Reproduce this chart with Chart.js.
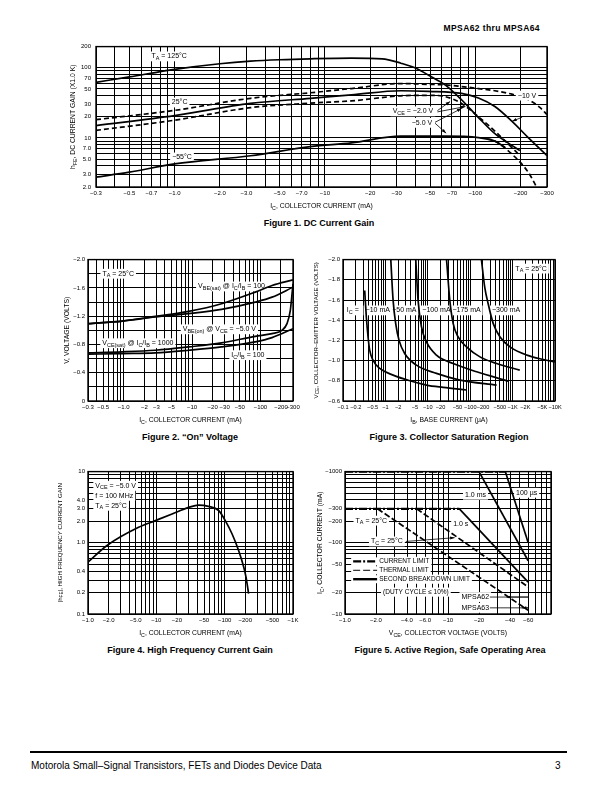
<!DOCTYPE html>
<html>
<head>
<meta charset="utf-8">
<title>MPSA62 thru MPSA64</title>
<script src="https://cdn.jsdelivr.net/npm/chart.js@4.4.1/dist/chart.umd.min.js"></script>
<style>
  body { margin: 0; background: #fff; }
  #page { position: relative; width: 612px; height: 792px; overflow: hidden; color: #000;
          font-family: "Liberation Sans", Arial, Helvetica, sans-serif; }
  canvas { position: absolute; }
  .cap { position: absolute; font-weight: bold; font-size: 9px; white-space: nowrap; transform: translateX(-50%); }
  #head { position: absolute; right: 72px; top: 23px; font-weight: bold; font-size: 8.5px; letter-spacing: 0.4px; }
  #rule { position: absolute; left: 30px; top: 751px; width: 537px; height: 2px; background: #000; }
  #foot { position: absolute; left: 31px; top: 760px; font-size: 10px; }
  #pg { position: absolute; left: 555px; top: 760px; font-size: 10px; }
</style>
</head>
<body>
<div id="page">
  <div id="head">MPSA62 thru MPSA64</div>

  <canvas id="fig1"></canvas>
  <div class="cap" style="left:319px; top:218px">Figure 1. DC Current Gain</div>

  <canvas id="fig2"></canvas>
  <div class="cap" style="left:190px; top:432px">Figure 2. “On” Voltage</div>

  <canvas id="fig3"></canvas>
  <div class="cap" style="left:449px; top:432px">Figure 3. Collector Saturation Region</div>

  <canvas id="fig4"></canvas>
  <div class="cap" style="left:190px; top:645px">Figure 4. High Frequency Current Gain</div>

  <canvas id="fig5"></canvas>
  <div class="cap" style="left:450px; top:645px">Figure 5. Active Region, Safe Operating Area</div>

  <div id="rule"></div>
  <div id="foot">Motorola Small–Signal Transistors, FETs and Diodes Device Data</div>
  <div id="pg">3</div>
</div>

<script>
const FONT = '"Liberation Sans", Arial, Helvetica, sans-serif';

// ---------- Figure 1: DC current gain (|Ic| mA, hFE x1000) ----------
const f1Ic125  = [0.3, 0.5, 1, 2, 3.2, 5, 8, 15, 24, 32, 41, 49, 63, 81, 105, 135, 165, 198];
const f1Hfe125 = [62, 74, 95, 114, 124, 130, 134, 137, 134, 116, 97, 78, 57, 35, 19.5, 11.5, 8.5, 6.6];
const f1Ic25a  = [0.3, 1, 3.2, 8, 15, 32, 49, 63, 81, 105, 135, 175, 225, 270, 300];
const f1Hfe25a = [18.2, 24.7, 36.7, 44, 50.5, 59.5, 58, 57, 54, 50.5, 47, 42, 35, 27, 21.5];   // -10 V
const f1Ic25b  = [0.3, 1, 3.2, 8, 15, 32, 49, 81, 105, 135, 175, 225, 300];
const f1Hfe25b = [15, 20.8, 31, 36.7, 41, 47, 46, 43, 37, 28, 17.3, 10.1, 5.6];                // -5 V
const f1Ic25c  = [0.3, 1, 3.2, 8, 15, 32, 49, 63, 81, 105, 135, 175, 198];
const f1Hfe25c = [12.8, 17.9, 27, 31.3, 33.7, 39.8, 40.5, 38.8, 31, 20, 12.5, 7.3, 5.6];       // -2 V
const f1Ic55   = [0.3, 0.5, 1, 3.2, 8, 15, 32, 63, 105, 135, 158];
const f1Hfe55  = [2.76, 3.25, 4.27, 5.57, 7.5, 8.5, 10.6, 10.6, 10.1, 9, 7.3];
const f1Ic55d  = [120, 135, 175, 225, 256];
const f1Hfe55d = [9.7, 9.06, 5.9, 3.25, 2.0];
const f1XVals = [0.3, 0.5, 0.7, 1, 2, 3, 5, 7, 10, 20, 30, 50, 70, 100, 200, 300];
const f1XText = ['−0.3', '−0.5', '−0.7', '−1.0', '−2.0', '−3.0', '−5.0', '−7.0', '−10', '−20', '−30', '−50', '−70', '−100', '−200', '−300'];
const f1YVals = [2, 3, 5, 7, 10, 20, 30, 50, 70, 100, 200];
const f1YText = ['2.0', '3.0', '5.0', '7.0', '10', '20', '30', '50', '70', '100', '200'];

// ---------- Figure 2: "On" voltage (|Ic| mA, |V|) ----------
const f2Ic       = [0.3, 0.95, 2.9, 8.9, 27, 84, 148, 300];
const f2VbeSat   = [1.094, 1.131, 1.197, 1.268, 1.376, 1.54, 1.634, 1.714];
const f2VbeOn    = [1.094, 1.131, 1.188, 1.235, 1.296, 1.399, 1.469, 1.61];
const f2IcLow    = [0.3, 0.95, 2.9, 8.9, 27, 84, 148, 207, 245, 274, 300];
const f2VceSat1k = [0.681, 0.695, 0.718, 0.765, 0.822, 0.915, 0.953, 1.0, 1.094, 1.282, 1.657];
const f2VceSat100 = [0.662, 0.671, 0.681, 0.718, 0.765, 0.836, 0.897, 1.023];
const f2XVals = [0.3, 0.5, 1, 2, 3, 5, 10, 20, 30, 50, 100, 200, 300];
const f2XText = ['−0.3', '−0.5', '−1.0', '−2', '−3', '−5', '−10', '−20', '−30', '−50', '−100', '−200', '−300'];
const f2YVals = [0, 0.4, 0.8, 1.2, 1.6, 2.0];
const f2YText = ['0', '−0.4', '−0.8', '−1.2', '−1.6', '−2.0'];

// ---------- Figure 3: collector saturation region (|Ib| uA, |Vce|) ----------
const f3Ib10   = [0.325, 0.355, 0.39, 0.426, 0.51, 0.735, 1.52, 3.77, 9.3, 23, 82];
const f3Vce10  = [1.694, 1.431, 1.234, 1.103, 1.004, 0.922, 0.856, 0.80, 0.758, 0.735, 0.709];
const f3Ib50   = [1.34, 1.52, 1.75, 2.1, 2.85, 5.4, 16, 57, 420];
const f3Vce50  = [2.0, 1.596, 1.366, 1.2, 1.07, 0.955, 0.873, 0.807, 0.758];
const f3Ib100  = [5.2, 5.9, 7.1, 9.3, 16, 39.7, 142, 790];
const f3Vce100 = [2.0, 1.596, 1.333, 1.185, 1.054, 0.971, 0.889, 0.797];
const f3Ib175  = [27.7, 33, 39.7, 52, 82, 170, 420, 1475];
const f3Vce175 = [2.0, 1.6, 1.366, 1.234, 1.136, 1.037, 0.971, 0.906];
const f3Ib300  = [184, 220, 265, 350, 505, 870, 2170, 5300, 10000];
const f3Vce300 = [2.0, 1.727, 1.563, 1.366, 1.234, 1.136, 1.054, 1.011, 0.988];
const f3XVals = [0.1, 0.2, 0.5, 1, 2, 5, 10, 20, 50, 100, 200, 500, 1000, 2000, 5000, 10000];
const f3XText = ['−0.1', '−0.2', '−0.5', '−1', '−2', '−5', '−10', '−20', '−50', '−100', '−200', '−500', '−1K', '−2K', '−5K', '−10K'];
const f3YVals = [0.6, 0.8, 1.0, 1.2, 1.4, 1.6, 1.8, 2.0];
const f3YText = ['−0.6', '−0.8', '−1.0', '−1.2', '−1.4', '−1.6', '−1.8', '−2.0'];

// ---------- Figure 4: high frequency current gain (|Ic| mA, |hfe|) ----------
const f4Ic  = [1, 1.9, 5.5, 9.7, 17, 29.7, 41.6, 58, 82, 102, 128, 160, 190, 205, 224];
const f4Hfe = [0.537, 0.918, 1.65, 2.05, 2.54, 3.14, 3.39, 3.25, 2.83, 2.05, 1.34, 0.78, 0.457, 0.332, 0.194];
const f4XVals = [1, 2, 5, 10, 20, 50, 100, 200, 500, 1000];
const f4XText = ['−1.0', '−2.0', '−5.0', '−10', '−20', '−50', '−100', '−200', '−500', '−1K'];
const f4YVals = [0.1, 0.2, 0.4, 1, 2, 3, 4, 10];
const f4YText = ['0.1', '0.2', '0.4', '1.0', '2.0', '3.0', '4.0', '10'];

// ---------- Figure 5: safe operating area (|Vce| V, |Ic| mA) ----------
const f5CurVce  = [1, 36];      const f5CurIc  = [1000, 1000];
const f5Cur2Vce = [1, 12.9];    const f5Cur2Ic = [300, 300];
const f5UsVce   = [36, 60];     const f5UsIc   = [1000, 101];
const f5MsVce   = [20, 60];     const f5MsIc   = [1000, 56];
const f5SVce    = [12.9, 60];   const f5SIc    = [300, 28];
const f5TcVce   = [4.97, 60];   const f5TcIc   = [300, 24];
const f5TaVce   = [2.07, 60];   const f5TaIc   = [300, 11.3];
const f5XVals = [1, 2, 4, 6, 10, 20, 40, 60];
const f5XText = ['−1.0', '−2.0', '−4.0', '−6.0', '−10', '−20', '−40', '−60'];
const f5YVals = [10, 20, 50, 100, 200, 300, 1000];
const f5YText = ['−10', '−20', '−50', '−100', '−200', '−300', '−1000'];

// ---------- helpers ----------
function logGrid(min, max) {
  const out = [];
  for (let e = Math.floor(Math.log10(min)); e <= Math.ceil(Math.log10(max)); e++)
    for (let m = 1; m <= 9; m++) {
      const v = parseFloat((m * Math.pow(10, e)).toPrecision(8));
      if (v >= min * 0.9999 && v <= max * 1.0001) out.push(v);
    }
  return out;
}
function linGrid(min, max, step) {
  const out = [];
  for (let v = min; v <= max + step / 1000; v += step) out.push(Math.round(v * 1000) / 1000);
  return out;
}
function pick(vals, texts) {
  return v => {
    const i = vals.findIndex(t => Math.abs(t - v) <= Math.abs(t) * 1e-6 + 1e-9);
    return i < 0 ? '' : texts[i];
  };
}
function axis(type, pos, min, max, grid, vals, texts, pad, size) {
  return {
    type, position: pos, min, max,
    afterBuildTicks: s => { s.ticks = grid.map(v => ({ value: v })); },
    ticks: { autoSkip: false, maxRotation: 0, minRotation: 0, padding: pad, color: '#000',
             font: { family: FONT, size: size || 6 }, callback: pick(vals, texts) },
    grid: { color: '#000', lineWidth: 1, drawTicks: false },
    border: { display: false }
  };
}
function curve(xs, ys, o) {
  o = o || {};
  return {
    data: xs.map((x, i) => ({ x, y: ys[i] })),
    showLine: true, borderColor: '#000', backgroundColor: '#000',
    borderWidth: o.w || 1.7, borderDash: o.dash || [], pointRadius: 0,
    tension: o.straight ? 0 : 0.4, cubicInterpolationMode: o.straight ? 'default' : 'monotone'
  };
}

// text with _{subscript} parts
function rich(ctx, str, x, y, o) {
  o = o || {};
  const fs = o.size || 7, ss = fs * 0.78;
  const parts = [], re = /_\{([^}]*)\}/g;
  let last = 0, m;
  while ((m = re.exec(str))) {
    if (m.index > last) parts.push({ s: str.slice(last, m.index), sub: false });
    parts.push({ s: m[1], sub: true });
    last = re.lastIndex;
  }
  if (last < str.length) parts.push({ s: str.slice(last), sub: false });
  const font = sz => sz + 'px ' + FONT;
  let w = 0;
  parts.forEach(p => { ctx.font = font(p.sub ? ss : fs); p.w = ctx.measureText(p.s).width; w += p.w; });
  ctx.save();
  ctx.translate(x, y);
  if (o.rot) ctx.rotate(o.rot);
  let x0 = o.align === 'left' ? 0 : o.align === 'right' ? -w : -w / 2;
  if (o.mode !== 'text' && o.bg) {
    const h = o.bgH || fs * 1.4;
    ctx.fillStyle = '#fff';
    ctx.fillRect(x0 - 2, -h / 2, w + 4, h);
  }
  if (o.mode !== 'bg') {
    ctx.fillStyle = '#000';
    ctx.textBaseline = 'middle';
    ctx.textAlign = 'left';
    parts.forEach(p => {
      ctx.font = font(p.sub ? ss : fs);
      ctx.fillText(p.s, x0, p.sub ? fs * 0.3 : 0);
      x0 += p.w;
    });
  }
  ctx.restore();
}

const NOTES = {};
function px(chart, x, y) { return [chart.scales.x.getPixelForValue(x), chart.scales.y.getPixelForValue(y)]; }
const notesPlugin = {
  id: 'notes',
  beforeDatasetsDraw(chart) {
    const n = NOTES[chart.canvas.id], ctx = chart.ctx;
    (n.labels || []).forEach(l => {
      if (l.cover) return;
      const [x, y] = px(chart, l.x, l.y);
      rich(ctx, l.t, x, y, { size: l.size || n.size, align: l.align, bg: true, bgH: l.bgH, mode: 'bg' });
    });
  },
  afterDatasetsDraw(chart) {
    const n = NOTES[chart.canvas.id], ctx = chart.ctx, a = chart.chartArea;
    ctx.save();
    ctx.strokeStyle = '#000';
    ctx.fillStyle = '#000';
    ctx.lineWidth = 1.4;
    ctx.strokeRect(a.left, a.top, a.right - a.left, a.bottom - a.top);
    (n.samples || []).forEach(s => {
      const [x1, y1] = px(chart, s.x1, s.y), [x2] = px(chart, s.x2, s.y);
      ctx.fillStyle = '#fff';
      ctx.fillRect(x1 - 2, y1 - 4, x2 - x1 + 4, 8);
      ctx.beginPath();
      ctx.setLineDash(s.dash || []);
      ctx.lineWidth = s.w;
      ctx.moveTo(x1, y1); ctx.lineTo(x2, y1); ctx.stroke();
      ctx.setLineDash([]);
    });
    ctx.fillStyle = '#000';
    (n.arrows || []).forEach(r => {
      const [x1, y1] = px(chart, r[0], r[1]), [x2, y2] = px(chart, r[2], r[3]);
      ctx.beginPath(); ctx.lineWidth = 0.8; ctx.moveTo(x1, y1); ctx.lineTo(x2, y2); ctx.stroke();
      if (r[4]) {
        const ang = Math.atan2(y2 - y1, x2 - x1), L = 4.5, W = 1.6;
        ctx.beginPath();
        ctx.moveTo(x2, y2);
        ctx.lineTo(x2 - L * Math.cos(ang) + W * Math.sin(ang), y2 - L * Math.sin(ang) - W * Math.cos(ang));
        ctx.lineTo(x2 - L * Math.cos(ang) - W * Math.sin(ang), y2 - L * Math.sin(ang) + W * Math.cos(ang));
        ctx.closePath(); ctx.fill();
      }
    });
    (n.labels || []).forEach(l => {
      const [x, y] = px(chart, l.x, l.y);
      rich(ctx, l.t, x, y, { size: l.size || n.size, align: l.align, bg: true, bgH: l.bgH, mode: l.cover ? 'both' : 'text' });
    });
    rich(ctx, n.xTitle, (a.left + a.right) / 2, a.bottom + 19, { size: 6.8 });
    rich(ctx, n.yTitle, a.left - n.yGap, (a.top + a.bottom) / 2, { size: n.ySize || 6.8, rot: -Math.PI / 2 });
    ctx.restore();
  }
};

function figure(id, box, m, sets, xAx, yAx, note) {
  const cv = document.getElementById(id);
  cv.width = box.w + m.l + m.r;
  cv.height = box.h + m.t + m.b;
  cv.style.left = (box.x - m.l) + 'px';
  cv.style.top = (box.y - m.t) + 'px';
  xAx.afterFit = s => { s.height = m.b; };
  yAx.afterFit = s => { s.width = m.l; };
  NOTES[id] = note;
  return new Chart(cv, {
    type: 'scatter',
    data: { datasets: sets },
    options: {
      responsive: false, animation: false, devicePixelRatio: 1, events: [],
      layout: { padding: { left: 0, top: m.t, right: m.r, bottom: 0 } },
      plugins: { legend: { display: false }, tooltip: { enabled: false } },
      scales: { x: xAx, y: yAx }
    },
    plugins: [notesPlugin]
  });
}

const DASH = [5, 3];

// Figure 1
figure('fig1', { x: 96, y: 44, w: 451, h: 143 }, { l: 36, t: 6, r: 14, b: 26 }, [
  curve(f1Ic125, f1Hfe125),
  curve(f1Ic25a, f1Hfe25a, { dash: DASH }),
  curve(f1Ic25b, f1Hfe25b),
  curve(f1Ic25c, f1Hfe25c, { dash: DASH }),
  curve(f1Ic55, f1Hfe55),
  curve(f1Ic55d, f1Hfe55d, { dash: DASH })
],
  axis('logarithmic', 'bottom', 0.3, 300, logGrid(0.3, 300), f1XVals, f1XText, 3),
  axis('logarithmic', 'left', 2, 200, logGrid(2, 200), f1YVals, f1YText, 5),
  {
    xTitle: 'I_{C}, COLLECTOR CURRENT (mA)', yTitle: 'h_{FE}, DC CURRENT GAIN (X1.0 K)', yGap: 23,
    labels: [
      { t: 'T_{A} = 125°C', x: 0.92, y: 145 },
      { t: '25°C', x: 1.08, y: 32 },
      { t: '−55°C', x: 1.12, y: 5.27 },
      { t: 'V_{CE} = −2.0 V', x: 38.5, y: 23.9 },
      { t: '−5.0 V', x: 44.2, y: 16.4 },
      { t: '−10 V', x: 221, y: 40.1, cover: true }
    ],
    arrows: [
      [56, 24.5, 68, 33, 1], [56, 23.5, 86, 28, 1],
      [54, 16.7, 81, 26.3, 1], [54, 16.2, 64, 11.7, 1],
      [205, 19.7, 176, 17.3, 1]
    ]
  });

// Figure 2
figure('fig2', { x: 88, y: 259, w: 205, h: 142 }, { l: 30, t: 6, r: 14, b: 26 }, [
  curve(f2Ic, f2VbeSat),
  curve(f2Ic, f2VbeOn),
  curve(f2IcLow, f2VceSat1k),
  curve(f2Ic, f2VceSat100)
],
  axis('logarithmic', 'bottom', 0.3, 300, logGrid(0.3, 300), f2XVals, f2XText, 3),
  axis('linear', 'left', 0, 2, linGrid(0, 2, 0.2), f2YVals, f2YText, 3),
  {
    xTitle: 'I_{C}, COLLECTOR CURRENT (mA)', yTitle: 'V, VOLTAGE (VOLTS)', yGap: 21,
    labels: [
      { t: 'T_{A} = 25°C', x: 0.83, y: 1.80 },
      { t: 'V_{BE(sat)} @ I_{C}/I_{B} = 100', x: 37.8, y: 1.62 },
      { t: 'V_{BE(on)} @ V_{CE} = −5.0 V', x: 25.1, y: 1.014 },
      { t: 'V_{CE(sat)} @ I_{C}/I_{B} = 1000', x: 1.61, y: 0.817 },
      { t: 'I_{C}/I_{B} = 100', x: 65.6, y: 0.648 }
    ]
  });

// Figure 3
figure('fig3', { x: 343, y: 259, w: 212, h: 142 }, { l: 32, t: 6, r: 14, b: 26 }, [
  curve(f3Ib10, f3Vce10),
  curve(f3Ib50, f3Vce50),
  curve(f3Ib100, f3Vce100),
  curve(f3Ib175, f3Vce175),
  curve(f3Ib300, f3Vce300)
],
  axis('logarithmic', 'bottom', 0.1, 10000, logGrid(0.1, 10000), f3XVals, f3XText, 3, 5.6),
  axis('linear', 'left', 0.6, 2, linGrid(0.6, 2, 0.2), f3YVals, f3YText, 3),
  {
    xTitle: 'I_{B}, BASE CURRENT (µA)', yTitle: 'V_{CE}, COLLECTOR–EMITTER VOLTAGE (VOLTS)', yGap: 27, ySize: 6.1,
    labels: [
      { t: 'T_{A} = 25°C', x: 2735, y: 1.911 },
      { t: 'I_{C} =', x: 0.17, y: 1.497 },
      { t: '−10 mA', x: 0.66, y: 1.497 },
      { t: '−50 mA', x: 2.8, y: 1.497 },
      { t: '−100 mA', x: 16, y: 1.497 },
      { t: '−175 mA', x: 82, y: 1.497 },
      { t: '−300 mA', x: 702, y: 1.497 }
    ]
  });

// Figure 4
figure('fig4', { x: 88, y: 471, w: 205, h: 143 }, { l: 34, t: 6, r: 14, b: 26 }, [
  curve(f4Ic, f4Hfe)
],
  axis('logarithmic', 'bottom', 1, 1000, logGrid(1, 1000), f4XVals, f4XText, 3),
  axis('logarithmic', 'left', 0.1, 10, logGrid(0.1, 10), f4YVals, f4YText, 3),
  {
    xTitle: 'I_{C}, COLLECTOR CURRENT (mA)', yTitle: '|h_{FE}|, HIGH FREQUENCY CURRENT GAIN', yGap: 28, ySize: 6.1,
    labels: [
      { t: 'V_{CE} = −5.0 V', x: 1.28, y: 6.31, align: 'left', bgH: 10 },
      { t: 'f = 100 MHz', x: 1.28, y: 4.58, align: 'left', bgH: 10 },
      { t: 'T_{A} = 25°C', x: 1.28, y: 3.32, align: 'left', bgH: 10 }
    ]
  });

// Figure 5
figure('fig5', { x: 345, y: 471, w: 206, h: 143 }, { l: 32, t: 6, r: 14, b: 26 }, [
  curve(f5CurVce, f5CurIc, { straight: true, w: 2.4, dash: [8, 2, 2, 2] }),
  curve(f5Cur2Vce, f5Cur2Ic, { straight: true, w: 2.4, dash: [8, 2, 2, 2] }),
  curve(f5UsVce, f5UsIc, { straight: true }),
  curve(f5MsVce, f5MsIc, { straight: true }),
  curve(f5SVce, f5SIc, { straight: true }),
  curve(f5TcVce, f5TcIc, { straight: true, dash: [6, 2.5] }),
  curve(f5TaVce, f5TaIc, { straight: true, dash: [6, 2.5] })
],
  axis('logarithmic', 'bottom', 1, 100, logGrid(1, 100), f5XVals, f5XText, 3),
  axis('logarithmic', 'left', 10, 1000, logGrid(10, 1000), f5YVals, f5YText, 3),
  {
    xTitle: 'V_{CE}, COLLECTOR VOLTAGE (VOLTS)', yTitle: 'I_{C}, COLLECTOR CURRENT (mA)', yGap: 25,
    labels: [
      { t: '1.0 ms', x: 18.5, y: 473 },
      { t: '100 µs', x: 58, y: 504 },
      { t: '1.0 s', x: 13.3, y: 186 },
      { t: 'T_{A} = 25°C', x: 1.8, y: 205 },
      { t: 'T_{C} = 25°C', x: 2.55, y: 104.5 },
      { t: 'MPSA62', x: 18.4, y: 17.3 },
      { t: 'MPSA63', x: 18.4, y: 12.2 },
      { t: 'CURRENT LIMIT', x: 2.15, y: 54.9, align: 'left', size: 6.5 },
      { t: 'THERMAL LIMIT', x: 2.15, y: 41.1, align: 'left', size: 6.5 },
      { t: 'SECOND BREAKDOWN LIMIT', x: 2.15, y: 30.8, align: 'left', size: 6.5 },
      { t: '(DUTY CYCLE ≤ 10%)', x: 2.34, y: 20.3, align: 'left', size: 6.5 }
    ],
    samples: [
      { x1: 1.2, x2: 2.05, y: 54.9, w: 2.4, dash: [8, 2, 2, 2] },
      { x1: 1.2, x2: 2.05, y: 41.1, w: 1, dash: [7, 3] },
      { x1: 1.2, x2: 2.05, y: 30.8, w: 2.4 }
    ],
    arrows: [
      [3.9, 104.5, 11.6, 118, 1],
      [25.5, 17.3, 60, 17.3, 0], [60, 17.3, 37, 17.3, 1],
      [25.5, 12.2, 60, 12.2, 0], [60, 12.2, 52, 12.2, 1]
    ]
  });
</script>
</body>
</html>
